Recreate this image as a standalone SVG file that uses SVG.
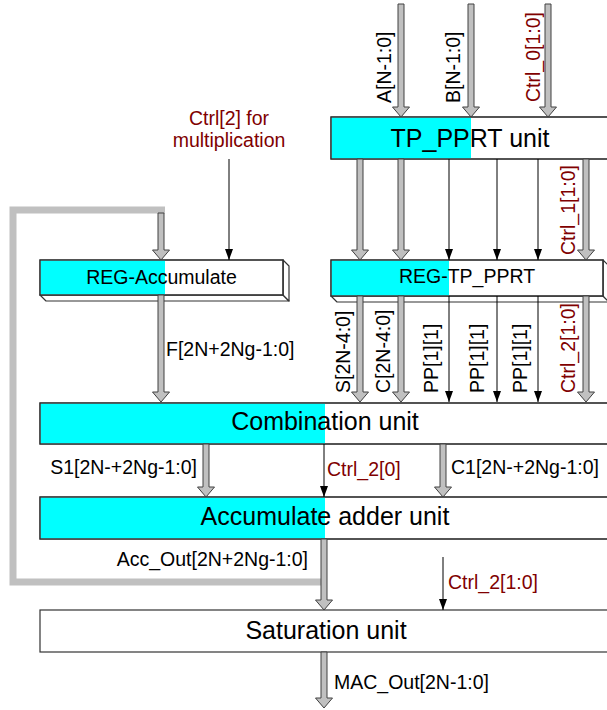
<svg xmlns="http://www.w3.org/2000/svg" width="607" height="710" viewBox="0 0 607 710">
<style>
.box{fill:#fff;stroke:#333;stroke-width:1.2}
.cy{fill:#00ffff;stroke:none}
.ol{fill:none;stroke:#333;stroke-width:1.2}
.bev{fill:#fff;stroke:#333;stroke-width:1.2;stroke-linejoin:round}
.big{font-family:"Liberation Sans",Arial,sans-serif;font-size:25px;fill:#000;text-anchor:middle}
.mid{font-family:"Liberation Sans",Arial,sans-serif;font-size:19.5px;fill:#000;text-anchor:middle}
.lbl{font-family:"Liberation Sans",Arial,sans-serif;font-size:19.5px;fill:#000}
.red{fill:#800000}
.fat{fill:#c0c0c0;stroke:#404040;stroke-width:1;stroke-linejoin:miter}
.thin{stroke:#000;stroke-width:1;fill:none;marker-end:url(#ah)}
.loop{fill:none;stroke:#c0c0c0;stroke-width:7;stroke-linejoin:miter}
</style>
<defs>
<marker id="ah" markerUnits="userSpaceOnUse" markerWidth="11" markerHeight="8" refX="11" refY="4" orient="auto" viewBox="0 0 11 8">
<path d="M0,0 L11,4 L0,8 Z" fill="#000"/>
</marker>
</defs>

<g id="feedback-loop">
<polyline class="loop" points="165,210 13,210 13,582 322,582"/>
</g>

<g id="tp-pprt-unit">
<rect class="box" x="331" y="117" width="290" height="42"/>
<rect class="cy" x="331.6" y="117.6" width="139.4" height="40.8"/>
<rect class="ol" x="331" y="117" width="290" height="42"/>
<text class="big" x="470" y="147">TP_PPRT unit</text>
</g>

<g id="reg-accumulate">
<polygon class="bev" points="40,295 283,295 289,301 46,301"/>
<polygon class="bev" points="283,260 289,266 289,301 283,295"/>
<rect class="box" x="40" y="260" width="243" height="35"/>
<rect class="cy" x="40.6" y="260.6" width="124.4" height="33.8"/>
<rect class="ol" x="40" y="260" width="243" height="35"/>
<text class="mid" x="161.5" y="284">REG-Accumulate</text>
</g>

<g id="reg-tp-pprt">
<polygon class="bev" points="331,296 603,296 609,302 337,302"/>
<polygon class="bev" points="603,260 609,266 609,302 603,296"/>
<rect class="box" x="331" y="260" width="272" height="36"/>
<rect class="cy" x="331.6" y="260.6" width="117.4" height="34.8"/>
<rect class="ol" x="331" y="260" width="272" height="36"/>
<text class="mid" x="467" y="283">REG-TP_PPRT</text>
</g>

<g id="combination-unit">
<rect class="box" x="40" y="403" width="580" height="41"/>
<rect class="cy" x="40.6" y="403.6" width="284.4" height="39.8"/>
<rect class="ol" x="40" y="403" width="580" height="41"/>
<text class="big" x="325" y="430">Combination unit</text>
</g>

<g id="accumulate-adder-unit">
<rect class="box" x="40" y="497" width="580" height="42"/>
<rect class="cy" x="40.6" y="497.6" width="284.4" height="40.8"/>
<rect class="ol" x="40" y="497" width="580" height="42"/>
<text class="big" x="325" y="525">Accumulate adder unit</text>
</g>

<g id="saturation-unit">
<rect class="box" x="40" y="610" width="580" height="42"/>
<text class="big" x="326" y="639">Saturation unit</text>
</g>

<g id="connectors">
<path class="fat" d="M398,4 V107 H392.5 L401,117 L409.5,107 H404 V4 Z"/>
<path class="fat" d="M468,4 V107 H462.5 L471,117 L479.5,107 H474 V4 Z"/>
<path class="fat" d="M545,4 V107 H539.5 L548,117 L556.5,107 H551 V4 Z"/>
<path class="fat" d="M357,159 V250 H351.5 L360,260 L368.5,250 H363 V159 Z"/>
<path class="fat" d="M398,159 V250 H392.5 L401,260 L409.5,250 H404 V159 Z"/>
<path class="fat" d="M583,159 V250 H577.5 L586,260 L594.5,250 H589 V159 Z"/>
<path class="fat" d="M357,296 V392 H351.5 L360,402 L368.5,392 H363 V296 Z"/>
<path class="fat" d="M398,296 V392 H392.5 L401,402 L409.5,392 H404 V296 Z"/>
<path class="fat" d="M583,296 V392 H577.5 L586,402 L594.5,392 H589 V296 Z"/>
<path class="fat" d="M158,213 V250 H152.5 L161,260 L169.5,250 H164 V213 Z"/>
<path class="fat" d="M158,295 V392 H152.5 L161,402 L169.5,392 H164 V295 Z"/>
<path class="fat" d="M203,444 V487 H197.5 L206,497 L214.5,487 H209 V444 Z"/>
<path class="fat" d="M440,444 V487 H434.5 L443,497 L451.5,487 H446 V444 Z"/>
<path class="fat" d="M321,539 V600 H315.5 L324,610 L332.5,600 H327 V539 Z"/>
<path class="fat" d="M321,652 V698 H315.5 L324,708 L332.5,698 H327 V652 Z"/>
<line class="thin" x1="229" y1="159" x2="229" y2="260"/>
<line class="thin" x1="449" y1="159" x2="449" y2="260"/>
<line class="thin" x1="497" y1="159" x2="497" y2="260"/>
<line class="thin" x1="538" y1="159" x2="538" y2="260"/>
<line class="thin" x1="449" y1="296" x2="449" y2="402"/>
<line class="thin" x1="497" y1="296" x2="497" y2="402"/>
<line class="thin" x1="538" y1="296" x2="538" y2="402"/>
<line class="thin" x1="324" y1="444" x2="324" y2="497"/>
<line class="thin" x1="443" y1="557" x2="443" y2="610"/>
</g>

<g id="labels">
<text class="lbl" transform="translate(391,103) rotate(-90)">A[N-1:0]</text>
<text class="lbl" transform="translate(460,103) rotate(-90)">B[N-1:0]</text>
<text class="lbl red" transform="translate(540,102) rotate(-90)">Ctrl_0[1:0]</text>
<text class="lbl red" transform="translate(575,255) rotate(-90)">Ctrl_1[1:0]</text>
<text class="lbl" transform="translate(350,393) rotate(-90)">S[2N-4:0]</text>
<text class="lbl" transform="translate(390,393) rotate(-90)">C[2N-4:0]</text>
<text class="lbl" transform="translate(438,393) rotate(-90)">PP[1][1]</text>
<text class="lbl" transform="translate(484,393) rotate(-90)">PP[1][1]</text>
<text class="lbl" transform="translate(527,393) rotate(-90)">PP[1][1]</text>
<text class="lbl red" transform="translate(575,393) rotate(-90)">Ctrl_2[1:0]</text>
<text class="mid red" x="229" y="125">Ctrl[2] for</text>
<text class="mid red" x="229" y="147">multiplication</text>
<text class="lbl" x="166" y="356">F[2N+2Ng-1:0]</text>
<text class="lbl" x="197" y="474" text-anchor="end">S1[2N-+2Ng-1:0]</text>
<text class="lbl red" x="327" y="476">Ctrl_2[0]</text>
<text class="lbl" x="451" y="474">C1[2N-+2Ng-1:0]</text>
<text class="lbl" x="308" y="566" text-anchor="end">Acc_Out[2N+2Ng-1:0]</text>
<text class="lbl red" x="448" y="589">Ctrl_2[1:0]</text>
<text class="lbl" x="334" y="689">MAC_Out[2N-1:0]</text>
</g>
</svg>
